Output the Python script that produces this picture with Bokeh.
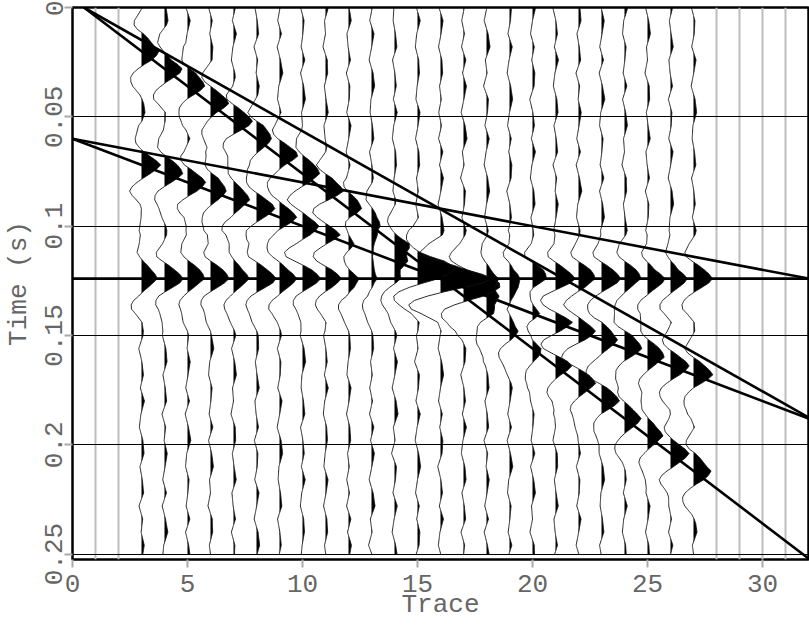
import numpy as np
from bokeh.plotting import figure
from bokeh.models import Range1d, FixedTicker
from bokeh.embed import file_html
from bokeh.resources import INLINE

# ---------------- data ----------------
traces = list(range(3, 28))
all_trace_slots = list(range(1, 32))

# event times (s) picked per trace (traces 3..27)
event1_times = [0.020, 0.028, 0.036, 0.044, 0.052, 0.060, 0.068, 0.076, 0.084,
                0.092, 0.100, 0.108, 0.116, 0.124, 0.132, 0.140, 0.148, 0.156,
                0.164, 0.172, 0.180, 0.188, 0.196, 0.204, 0.212]
event2_times = [0.072, 0.076, 0.080, 0.084, 0.088, 0.092, 0.096, 0.100, 0.104,
                0.108, 0.112, 0.116, 0.120, 0.124, 0.128, 0.132, 0.136, 0.140,
                0.144, 0.148, 0.152, 0.156, 0.160, 0.164, 0.168]
event3_times = [0.124] * 25
event_amps = [0.75, 0.75, 0.75]

# wavelet shape (time offset s, amplitude in trace spacings)
wavelet_t = [-0.020, -0.016, -0.012, -0.010, -0.008, -0.006, -0.004, -0.002, 0.0,
             0.002, 0.004, 0.006, 0.008, 0.010, 0.012, 0.014, 0.016, 0.020, 0.024]
wavelet_a = [0.0, -0.15, -0.30, -0.22, -0.02, 0.22, 0.42, 0.62, 0.75,
             0.58, 0.32, 0.04, -0.20, -0.38, -0.45, -0.40, -0.28, -0.08, 0.0]

# background noise pattern (trace spacings, every 6 ms)
noise_pattern = [0.05, -0.10, 0.12, -0.05, 0.15, 0.02, -0.12, 0.08, 0.18, -0.06,
                 0.03, -0.15, 0.10, 0.05, -0.08, 0.14, -0.02, -0.12, 0.06, 0.16,
                 0.00, -0.10, 0.09, -0.04, 0.12, 0.08, -0.14, 0.02, 0.10, -0.06,
                 0.15, -0.03, -0.11, 0.07, 0.13, -0.08, 0.04, 0.11, -0.13, 0.06,
                 -0.02, 0.14, 0.03, -0.09, 0.10, -0.12, 0.05, 0.17, -0.04, -0.10,
                 0.08, 0.02, -0.07, 0.12, -0.10, 0.06, 0.15, -0.05, 0.00, -0.13,
                 0.09, 0.11, -0.06, 0.03, 0.14, -0.08, -0.02, 0.10, -0.11, 0.07,
                 0.04, -0.09, 0.13, 0.01, -0.12, 0.08, 0.16, -0.03, -0.07, 0.05,
                 0.12, -0.10, 0.02, 0.09, -0.06, 0.14, -0.04, -0.11, 0.06, 0.10,
                 -0.02, -0.08, 0.13, 0.03, -0.10, 0.07, 0.11, -0.05, 0.04, -0.09]
noise_dt = 0.006
noise_gain = 0.85

# moveout lines: start (trace, time) -> end (trace, time)
line_x0 = [0.5, 0.5, 0.0, 0.0, 0.0]
line_t0 = [0.0, 0.0, 0.06, 0.06, 0.124]
line_x1 = [32.0, 32.0, 32.0, 32.0, 32.0]
line_t1 = [0.252, 0.1875, 0.188, 0.124, 0.124]

x_ticks = [0, 5, 10, 15, 20, 25, 30]
y_ticks = [0.0, 0.05, 0.1, 0.15, 0.2, 0.25]
y_tick_labels = ["0", "0.05", "0.1", "0.15", "0.2", "0.25"]

# ---------------- figure ----------------
FONT = "Liberation Mono"
TXT = "#666666"

p = figure(width=809, height=625, output_backend="svg", toolbar_location=None,
           x_range=Range1d(0, 32), y_range=Range1d(0.2525, 0),
           min_border_left=70, min_border_right=1, min_border_top=7,
           min_border_bottom=66)
p.background_fill_color = "white"
p.border_fill_color = "white"
p.outline_line_color = "black"
p.outline_line_width = 2.5

for ax in (p.xaxis[0], p.yaxis[0]):
    ax.axis_line_color = None
    ax.major_tick_line_color = "#aaaaaa"
    ax.major_tick_line_width = 2
    ax.major_tick_out = 8
    ax.major_tick_in = 0
    ax.minor_tick_line_color = None
    ax.major_label_text_font = FONT
    ax.major_label_text_font_size = "26px"
    ax.major_label_text_color = TXT
    ax.axis_label_text_font = FONT
    ax.axis_label_text_font_size = "26px"
    ax.axis_label_text_font_style = "normal"
    ax.axis_label_text_color = TXT

p.xaxis.ticker = FixedTicker(ticks=x_ticks)
p.yaxis.ticker = FixedTicker(ticks=y_ticks)
p.yaxis.major_label_overrides = {v: s for v, s in zip(y_ticks, y_tick_labels)}
p.yaxis.major_label_orientation = "vertical"
p.xaxis.major_label_standoff = 7
p.yaxis.major_label_standoff = 2
p.xaxis.axis_label = "Trace"
p.yaxis.axis_label = "Time (s)"
p.xaxis.axis_label_standoff = -5
p.yaxis.axis_label_standoff = 9

p.ygrid.ticker = FixedTicker(ticks=y_ticks[1:])
p.ygrid.grid_line_color = "black"
p.ygrid.grid_line_width = 1.2
empty_slots = [s for s in all_trace_slots if s not in traces]
p.xgrid.ticker = FixedTicker(ticks=empty_slots)
p.xgrid.grid_line_color = "#bdbdbd"
p.xgrid.grid_line_width = 2

# ---------------- wiggle traces ----------------
t = np.arange(0.0, 0.2501, 0.0005)
noise_arr = np.array(noise_pattern)
noise_t = np.arange(44) * noise_dt
w_t = np.array(wavelet_t)
w_a = np.array(wavelet_a)

xs_all, ys_all = [], []
for k, tr in enumerate(traces):
    a = np.zeros_like(t)
    for times, amp in zip([event1_times, event2_times, event3_times], event_amps):
        a += (amp / 0.75) * np.interp(t - times[k], w_t, w_a, left=0.0, right=0.0)
    idx = (np.arange(len(noise_t)) + 7 * k) % len(noise_arr)
    a += noise_gain * np.interp(t, noise_t, noise_arr[idx])
    # insert zero crossings for a clean fill
    tt, aa = [t[0]], [a[0]]
    for i in range(1, len(t)):
        if a[i - 1] * a[i] < 0:
            tc = t[i - 1] + (t[i] - t[i - 1]) * a[i - 1] / (a[i - 1] - a[i])
            tt.append(tc)
            aa.append(0.0)
        tt.append(t[i])
        aa.append(a[i])
    tt = np.array(tt)
    aa = np.array(aa)
    p.harea(x1=np.full_like(tt, tr, dtype=float), x2=tr + np.clip(aa, 0, None), y=tt,
            fill_color="black", fill_alpha=1.0)
    xs_all.append(list(tr + aa))
    ys_all.append(list(tt))

p.multi_line(xs=xs_all, ys=ys_all, line_color="#111111", line_width=0.9)

# moveout lines
p.segment(x0=line_x0, y0=line_t0, x1=line_x1, y1=line_t1,
          line_color="black", line_width=2.6)

open("out.html", "w").write(file_html(p, INLINE))
